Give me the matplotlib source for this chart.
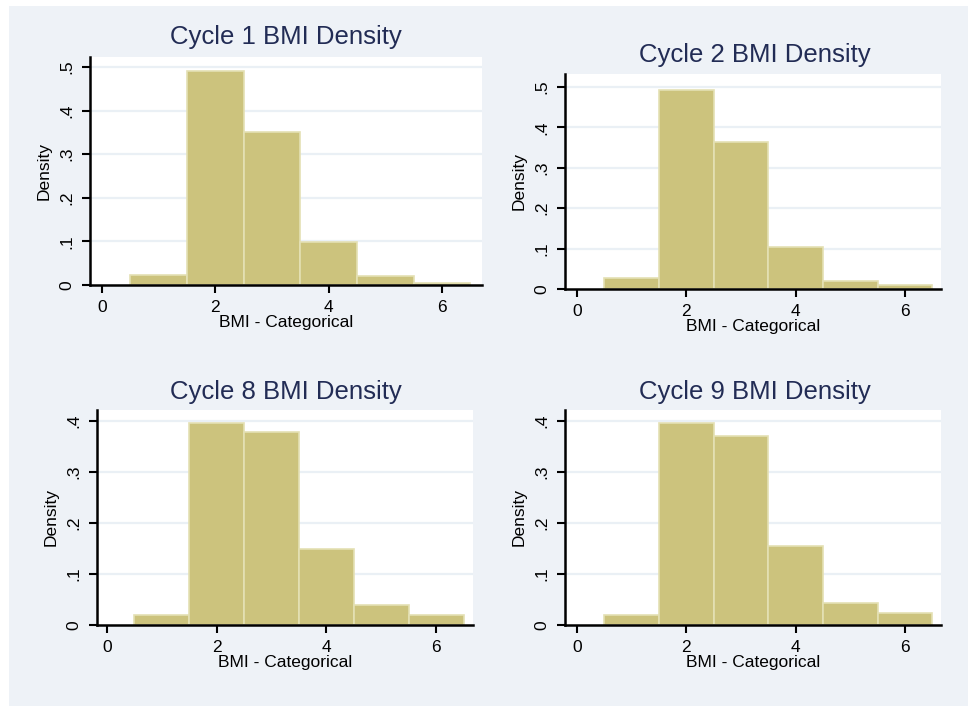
import matplotlib
matplotlib.use("Agg")
import matplotlib.pyplot as plt
import numpy as np

plt.rcParams['font.family'] = ['Liberation Sans', 'DejaVu Sans']

# ---- data ----
bin_centers = [1, 2, 3, 4, 5, 6]
cycle1 = [0.024, 0.491, 0.350, 0.098, 0.020, 0.005]
cycle2 = [0.026, 0.493, 0.363, 0.104, 0.020, 0.011]
cycle8 = [0.020, 0.397, 0.378, 0.150, 0.040, 0.020]
cycle9 = [0.020, 0.397, 0.370, 0.154, 0.044, 0.024]
titles = ["Cycle 1 BMI Density", "Cycle 2 BMI Density",
          "Cycle 8 BMI Density", "Cycle 9 BMI Density"]
x_ticks = [0, 2, 4, 6]
x_tick_labels = ["0", "2", "4", "6"]
y_ticks_top = [0, 0.1, 0.2, 0.3, 0.4, 0.5]
y_labels_top = ["0", ".1", ".2", ".3", ".4", ".5"]
y_ticks_bot = [0, 0.1, 0.2, 0.3, 0.4]
y_labels_bot = ["0", ".1", ".2", ".3", ".4"]
xlabel = "BMI - Categorical"
ylabel = "Density"

W, H = 968, 707
fig = plt.figure(figsize=(W / 100, H / 100), dpi=100)
fig.patch.set_facecolor('white')
BG = '#EEF2F7'
fig.patches.append(plt.Rectangle((9 / W, 1 / H), 1 - 9 / W, (700) / H,
                                 transform=fig.transFigure, facecolor=BG,
                                 edgecolor='none', zorder=-10))

# panel boxes in pixels: left, right, top, bottom ; ylim max ; title pos
panels = [
    dict(box=(90, 482, 57, 285), ymax=0.523, data=cycle1, ticks=y_ticks_top,
         labels=y_labels_top, title=titles[0], tpos=(286, 37), xl=(-0.212, 6.706)),
    dict(box=(565, 941, 74, 289), ymax=0.532, data=cycle2, ticks=y_ticks_top,
         labels=y_labels_top, title=titles[1], tpos=(755, 55), xl=(-0.22, 6.66)),
    dict(box=(97, 473, 410, 625), ymax=0.4216, data=cycle8, ticks=y_ticks_bot,
         labels=y_labels_bot, title=titles[2], tpos=(286, 392), xl=(-0.18, 6.67)),
    dict(box=(565, 941, 410, 625), ymax=0.4216, data=cycle9, ticks=y_ticks_bot,
         labels=y_labels_bot, title=titles[3], tpos=(755, 392), xl=(-0.22, 6.66)),
]

for p in panels:
    l, r, t, b = p['box']
    ax = fig.add_axes([l / W, 1 - b / H, (r - l) / W, (b - t) / H])
    ax.set_facecolor('white')
    ax.bar(bin_centers, p['data'], width=1.0, color='#CCC37D',
           edgecolor='#E4E0B4', linewidth=1.2, zorder=3)
    ax.set_xlim(*p['xl'])
    ax.set_ylim(0, p['ymax'])
    ax.set_yticks(p['ticks'])
    ax.set_yticklabels(p['labels'], rotation=90, va='center')
    ax.set_xticks(x_ticks)
    ax.set_xticklabels(x_tick_labels)
    for yv in p['ticks'][1:]:
        ax.axhline(yv, color='#EAF0F5', linewidth=1.6, zorder=1)
    for s in ['top', 'right']:
        ax.spines[s].set_visible(False)
    for s in ['left', 'bottom']:
        ax.spines[s].set_linewidth(1.8)
        ax.spines[s].set_color('black')
        ax.spines[s].set_zorder(5)
    ax.tick_params(axis='both', length=6, width=1.5, labelsize=12.5,
                   colors='black')
    ax.tick_params(axis='x', pad=5)
    ax.tick_params(axis='y', pad=5)
    ax.set_ylabel(ylabel, fontsize=12.5, labelpad=6)
    ax.set_xlabel(xlabel, fontsize=12.5)
    hpx = b - t
    ax.xaxis.set_label_coords(0.5, -30 / hpx)
    tx, ty = p['tpos']
    fig.text(tx / W, 1 - ty / H, p['title'], ha='center', va='center',
             fontsize=18.5, color='#222C55')

fig.savefig('out.png', dpi=100, facecolor='white')
